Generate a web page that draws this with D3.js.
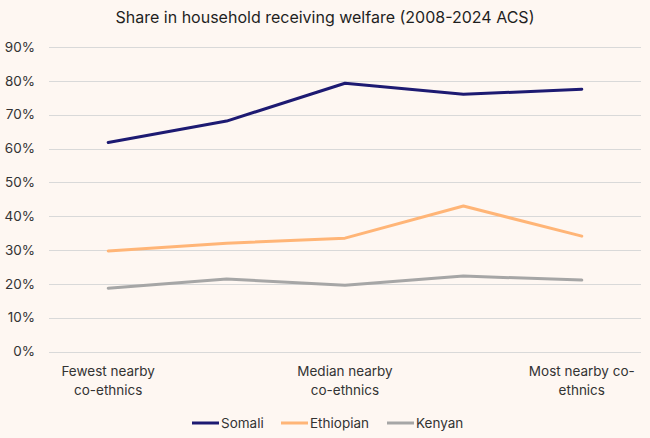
<!DOCTYPE html>
<html>
<head>
<meta charset="utf-8">
<script src="https://cdn.jsdelivr.net/npm/d3@7"></script>
<style>
  html, body { margin: 0; padding: 0; background: #fef7f2; }
  svg { display: block; font-family: Inter, "Open Sans", sans-serif; }
</style>
</head>
<body>
<svg id="chart" width="650" height="438"></svg>
<script>
// chart data
const categories = ["c1", "c2", "c3", "c4", "c5"];
const categoryLabels = [["Fewest nearby", "co-ethnics"], [], ["Median nearby", "co-ethnics"], [], ["Most nearby co-", "ethnics"]];
const somali = [61.8, 68.1, 79.3, 76.0, 77.5];
const ethiopian = [29.7, 32.0, 33.5, 43.0, 34.1];
const kenyan = [18.7, 21.4, 19.6, 22.3, 21.1];
const seriesNames = ["Somali", "Ethiopian", "Kenyan"];
const yTicks = [0, 10, 20, 30, 40, 50, 60, 70, 80, 90];

const colors = { Somali: "#1d1a72", Ethiopian: "#ffb577", Kenyan: "#a6a6a6" };
const series = [
    { name: "Somali", values: somali },
    { name: "Ethiopian", values: ethiopian },
    { name: "Kenyan", values: kenyan }
];

const svg = d3.select("#chart");
const margin = { left: 49, right: 9, top: 47, bottom: 86 };
const width = 650, height = 438;

const x = d3.scaleBand()
    .domain(categories)
    .range([margin.left, width - margin.right]);

const y = d3.scaleLinear()
    .domain([0, 90])
    .range([height - margin.bottom - 0.5, margin.top]);

// title
svg.append("text")
    .attr("x", 325)
    .attr("y", 23)
    .attr("text-anchor", "middle")
    .attr("font-size", 16)
    .attr("fill", "#1f1f1f")
    .text("Share in household receiving welfare (2008-2024 ACS)");

// gridlines
svg.append("g")
    .selectAll("line")
    .data(yTicks)
    .join("line")
    .attr("x1", margin.left)
    .attr("x2", width - margin.right)
    .attr("y1", d => Math.round(y(d)) + 0.5)
    .attr("y2", d => Math.round(y(d)) + 0.5)
    .attr("stroke", "#d9d9d9")
    .attr("stroke-width", 1);

// y axis labels
svg.append("g")
    .selectAll("text")
    .data(yTicks)
    .join("text")
    .attr("x", 35)
    .attr("y", d => y(d))
    .attr("dy", "0.35em")
    .attr("text-anchor", "end")
    .attr("font-size", 13.5)
    .attr("fill", "#333")
    .text(d => d + "%");

// x axis labels
const xLab = svg.append("g")
    .selectAll("text")
    .data(categories)
    .join("text")
    .attr("text-anchor", "middle")
    .attr("font-size", 13.5)
    .attr("fill", "#333");

xLab.selectAll("tspan")
    .data((d, i) => categoryLabels[i].map(t => ({ t, c: d })))
    .join("tspan")
    .attr("x", d => x(d.c) + x.bandwidth() / 2)
    .attr("y", (d, i) => 376 + i * 19)
    .text(d => d.t);

// lines
const line = d3.line()
    .x((d, i) => x(categories[i]) + x.bandwidth() / 2)
    .y(d => y(d));

svg.append("g")
    .selectAll("path")
    .data(series)
    .join("path")
    .attr("d", d => line(d.values))
    .attr("fill", "none")
    .attr("stroke", d => colors[d.name])
    .attr("stroke-width", 3)
    .attr("stroke-linejoin", "round")
    .attr("stroke-linecap", "round");

// legend
const legendX = [192, 281, 387];
const legend = svg.append("g")
    .selectAll("g")
    .data(seriesNames)
    .join("g")
    .attr("transform", (d, i) => `translate(${legendX[i]},423)`);

legend.append("line")
    .attr("x1", 0)
    .attr("x2", 27)
    .attr("stroke", d => colors[d])
    .attr("stroke-width", 3);

legend.append("text")
    .attr("x", 29)
    .attr("dy", "0.35em")
    .attr("font-size", 13.5)
    .attr("fill", "#333")
    .text(d => d);
</script>
</body>
</html>
